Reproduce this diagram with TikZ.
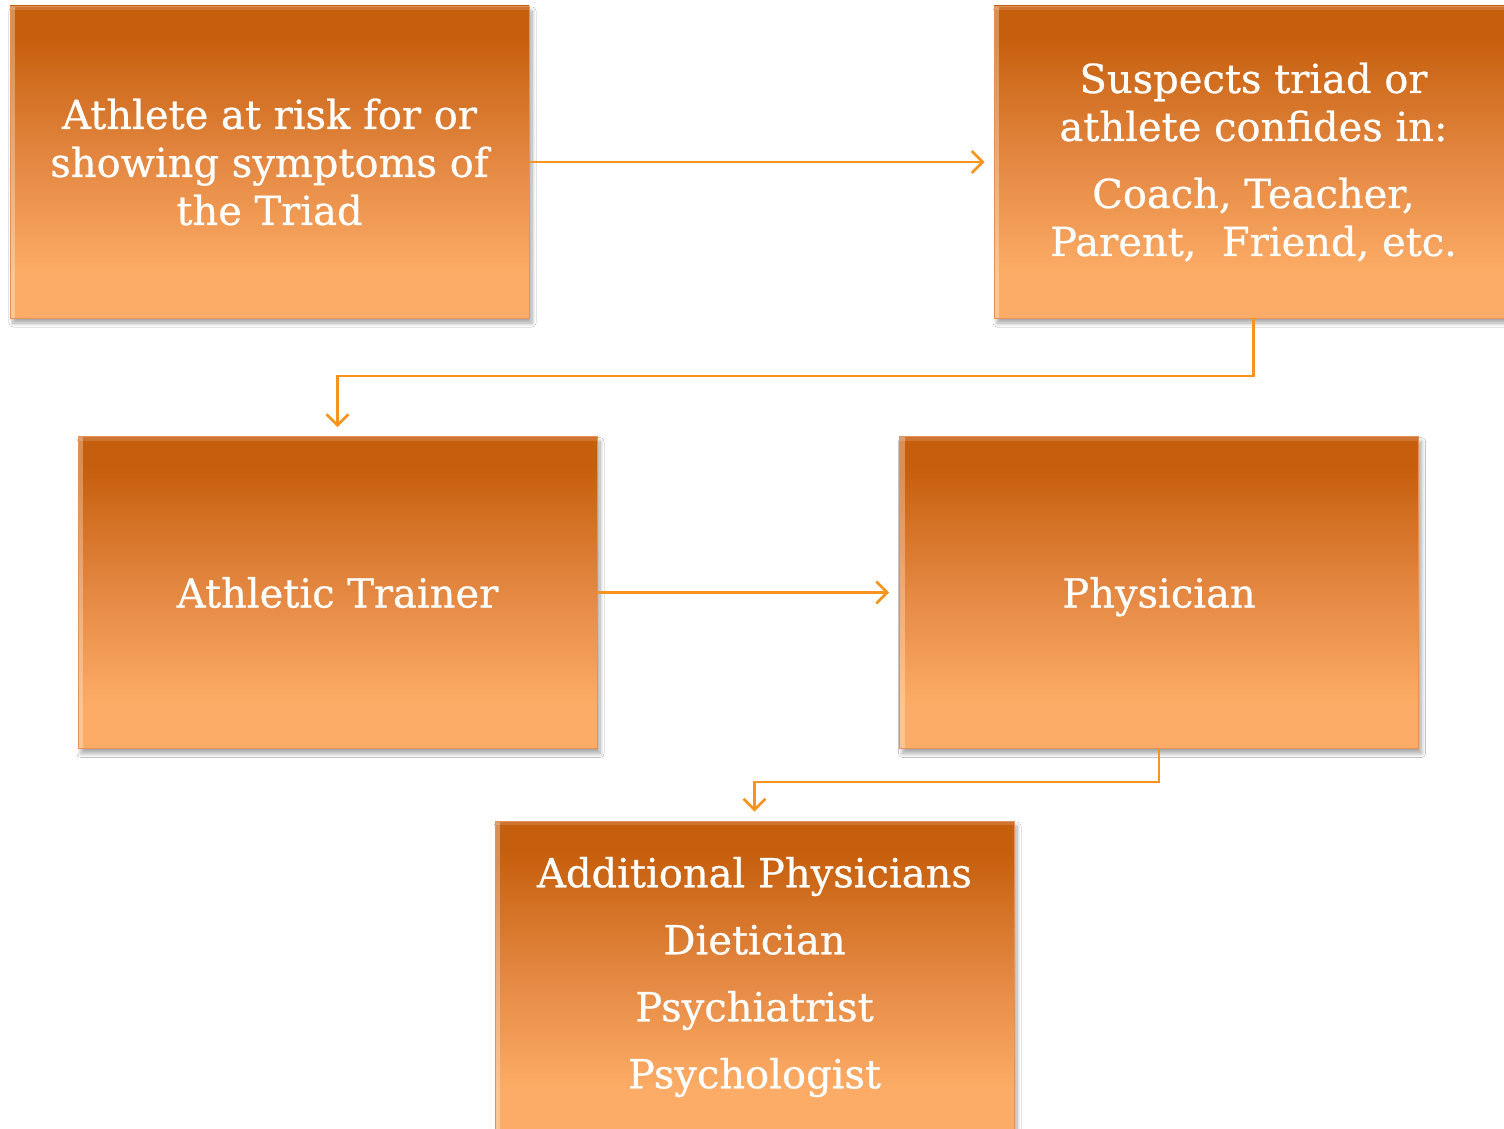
\documentclass[tikz,border=0pt]{standalone}
\usepackage{fontspec}
\setmainfont{DejaVu Serif}[FakeBold=0.6]
\usetikzlibrary{arrows.meta,shadows.blur}
\definecolor{darkO}{RGB}{198,95,13}
\definecolor{midO}{RGB}{228,136,66}
\definecolor{lightO}{RGB}{252,172,102}
\definecolor{lineO}{RGB}{247,148,29}
\definecolor{edgeO}{RGB}{230,146,86}
\pgfdeclareverticalshading{boxgrad}{100bp}{color(0bp)=(lightO); color(32bp)=(lightO); color(50bp)=(midO); color(70bp)=(darkO); color(100bp)=(darkO)}
\tikzset{
  flowbox/.style={rectangle, minimum width=519pt, minimum height=312pt, inner sep=0pt,
    shading=boxgrad, draw=edgeO, line width=0.8pt, text=white, align=center,
    font=\fontsize{40}{48}\selectfont,
    blur shadow={shadow xshift=3pt, shadow yshift=-5pt, shadow blur radius=4pt, shadow blur steps=8, shadow opacity=35},
    path picture={
      \fill[white,opacity=0.3] (path picture bounding box.north west) rectangle ([xshift=5pt]path picture bounding box.south west);
      \fill[white,opacity=0.15] (path picture bounding box.north west) rectangle ([yshift=-4pt]path picture bounding box.north east);
    }},
  oneline/.style={text height=40pt, text depth=10pt},
  conn/.style={draw=lineO, line width=2.8pt, -{Straight Barb[length=11pt,width=22pt,line width=2.6pt]}}
}
\begin{document}
\begin{tikzpicture}[x=1pt,y=-1pt]
\useasboundingbox[fill=white] (0,0) rectangle (1504,1129);
\node[flowbox] (A) at (269.5,162) {Athlete at risk for or\\showing symptoms of\\the Triad};
\node[flowbox] (B) at (1253.5,162) {Suspects triad or\\athlete confides in:\\[19pt]Coach, Teacher,\\Parent,\ \ Friend, etc.};
\node[flowbox, oneline] (C) at (337.5,592.5) {Athletic Trainer};
\node[flowbox, oneline] (D) at (1159,592.5) {Physician};
\node[flowbox] (E) at (754.5,977) {Additional Physicians\\[19pt]Dietician\\[19pt]Psychiatrist\\[19pt]Psychologist};
\coordinate (bc1) at (1253.5,376);
\coordinate (bc2) at (337.5,376);
\coordinate (de1) at (1159,782);
\coordinate (de2) at (754.5,782);
\draw[conn, shorten >=9pt] (A.east) -- (B.west);
\draw[conn, shorten >=9pt] (B.south) -- (bc1) -- (bc2) -- (C.north);
\draw[conn, shorten >=10pt] (C.east) -- (D.west);
\draw[conn, shorten >=9pt] (D.south) -- (de1) -- (de2) -- (E.north);
\end{tikzpicture}
\end{document}
